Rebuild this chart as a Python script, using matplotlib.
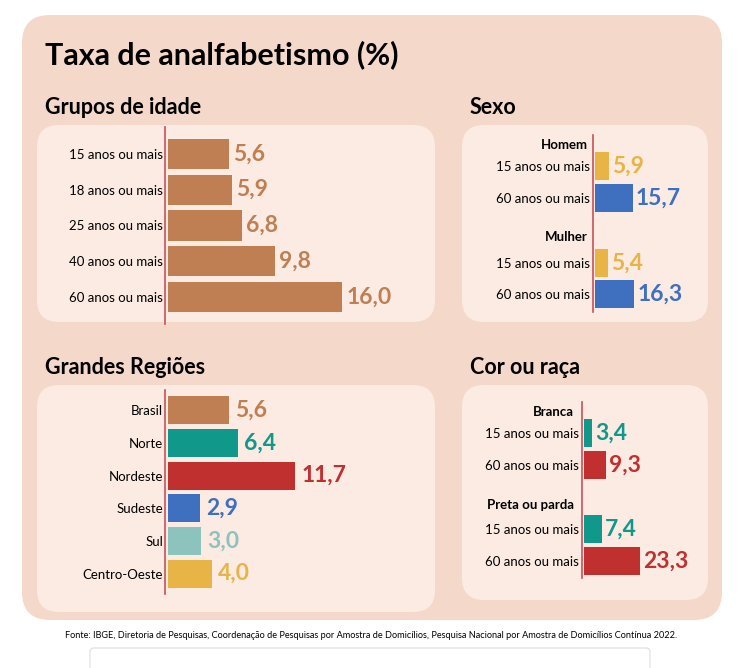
import matplotlib
matplotlib.use("Agg")
import matplotlib.pyplot as plt
from matplotlib.patches import FancyBboxPatch

plt.rcParams['font.family'] = ['Lato', 'DejaVu Sans']

W, H = 738, 668

idade_cat = ['15 anos ou mais', '18 anos ou mais', '25 anos ou mais', '40 anos ou mais', '60 anos ou mais']
idade_val = [5.6, 5.9, 6.8, 9.8, 16.0]

reg_cat = ['Brasil', 'Norte', 'Nordeste', 'Sudeste', 'Sul', 'Centro-Oeste']
reg_val = [5.6, 6.4, 11.7, 2.9, 3.0, 4.0]

sexo_cat = ['15 anos ou mais', '60 anos ou mais', '15 anos ou mais', '60 anos ou mais']
sexo_val = [5.9, 15.7, 5.4, 16.3]
sexo_grp = ['Homem', 'Mulher']

cor_cat = ['15 anos ou mais', '60 anos ou mais', '15 anos ou mais', '60 anos ou mais']
cor_val = [3.4, 9.3, 7.4, 23.3]
cor_grp = ['Branca', 'Preta ou parda']

BROWN = '#c07f52'
TEAL = '#10988a'
RED = '#c0302f'
BLUE = '#3f6fbf'
LTEAL = '#8cc4bd'
YELLOW = '#e8b445'
LINE = '#c8505a'
reg_col = [BROWN, TEAL, RED, BLUE, LTEAL, YELLOW]
sexo_col = [YELLOW, BLUE, YELLOW, BLUE]
cor_col = [TEAL, RED, TEAL, RED]

fig = plt.figure(figsize=(W / 100, H / 100), dpi=100)
fig.patch.set_facecolor('white')


def box(x0, y0, x1, y1, color, r, ec='none'):
    p = FancyBboxPatch((x0 / W, 1 - y1 / H), (x1 - x0) / W, (y1 - y0) / H,
                       boxstyle='round,pad=0,rounding_size=%f' % (r / W),
                       transform=fig.transFigure, fc=color, ec=ec, lw=0.8,
                       mutation_aspect=W / H, zorder=-5)
    fig.patches.append(p)


def text(x, y, s, **kw):
    fig.text(x / W, 1 - y / H, s, **kw)


def make_ax(x0, y0, x1, y1):
    ax = fig.add_axes([x0 / W, 1 - y1 / H, (x1 - x0) / W, (y1 - y0) / H])
    ax.set_facecolor('none')
    for s in ax.spines.values():
        s.set_visible(False)
    ax.set_xticks([])
    ax.tick_params(left=False, length=0)
    return ax


box(22, 15, 722, 620, '#f4d8ca', 28)
box(37, 125, 435, 322, '#fbebe3', 22)
box(462, 125, 708, 322, '#fbebe3', 22)
box(37, 385, 435, 612, '#fbebe3', 22)
box(462, 385, 708, 600, '#fbebe3', 22)
box(90, 648, 650, 700, 'white', 4, ec='#dddddd')

text(45, 55, 'Taxa de analfabetismo (%)', fontsize=22, fontweight='bold', va='center')
text(45, 107, 'Grupos de idade', fontsize=15.5, fontweight='bold', va='center')
text(470, 107, 'Sexo', fontsize=15.5, fontweight='bold', va='center')
text(45, 368, 'Grandes Regiões', fontsize=15.5, fontweight='bold', va='center')
text(470, 368, 'Cor ou raça', fontsize=15.5, fontweight='bold', va='center')
text(371, 636, 'Fonte: IBGE, Diretoria de Pesquisas, Coordenação de Pesquisas por Amostra de Domicílios, '
     'Pesquisa Nacional por Amostra de Domicílios Contínua 2022.', fontsize=6.6, ha='center', va='center')


def hbar(ax, pos, vals, cats, cols, h, fs, offset):
    ax.barh(pos, vals, height=h, color=cols)
    ax.set_yticks(pos)
    ax.set_yticklabels(cats, fontsize=9.5)
    for p, v, c in zip(pos, vals, cols):
        ax.text(v + offset, p, ('%.1f' % v).replace('.', ','), color=c,
                fontsize=fs, fontweight='bold', va='center')


# Grupos de idade
ax = make_ax(168, 136, 440, 315)
hbar(ax, range(5), idade_val, idade_cat, [BROWN] * 5, 0.84, 16.5, 0.4)
ax.set_xlim(0, 25)
ax.set_ylim(4.5, -0.5)
ax.axvline(-0.25, color=LINE, lw=1.2, ymin=-0.05, ymax=1.05, clip_on=False)

# Grandes Regiões
ax = make_ax(168, 394, 440, 590)
hbar(ax, range(6), reg_val, reg_cat, reg_col, 0.86, 16.5, 0.6)
ax.set_xlim(0, 25)
ax.set_ylim(5.5, -0.5)
ax.axvline(-0.25, color=LINE, lw=1.2, ymin=-0.02, ymax=1.02, clip_on=False)

# Sexo
ax = make_ax(595, 135, 708, 312)
pos = [166, 198, 263, 294]
hbar(ax, pos, sexo_val, sexo_cat, sexo_col, 28, 16.5, 1.2)
ax.set_xlim(0, 47)
ax.set_ylim(312, 135)
ax.axvline(-0.8, color=LINE, lw=1.2, clip_on=False)
for g, y in zip(sexo_grp, [145, 237]):
    ax.text(-3, y, g, fontsize=9.5, fontweight='bold', ha='right', va='center')

# Cor ou raça
ax = make_ax(584, 402, 708, 578)
pos = [433, 465, 529, 561]
hbar(ax, pos, cor_val, cor_cat, cor_col, 28, 16.5, 1.2)
ax.set_xlim(0, 51.5)
ax.set_ylim(578, 402)
ax.axvline(-0.8, color=LINE, lw=1.2, clip_on=False)
for g, y in zip(cor_grp, [412, 505]):
    ax.text(-4, y, g, fontsize=9.5, fontweight='bold', ha='right', va='center')

fig.savefig('out.png', dpi=100)
